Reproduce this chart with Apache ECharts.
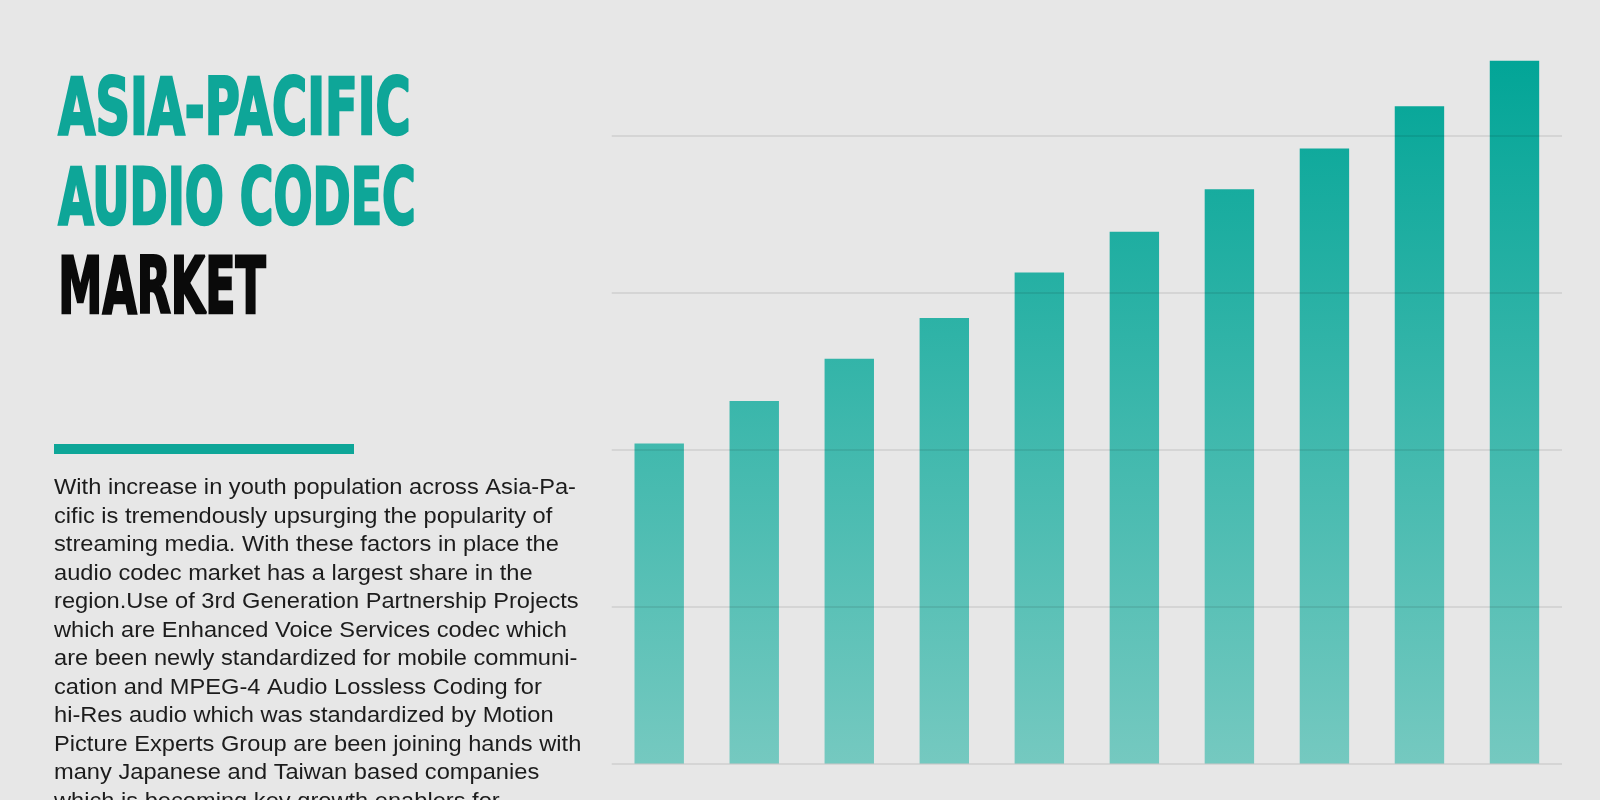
<!DOCTYPE html>
<html>
<head>
<meta charset="utf-8">
<title>Asia-Pacific Audio Codec Market</title>
<script src="https://cdn.jsdelivr.net/npm/echarts@6/dist/echarts.min.js"></script>
<style>
  html, body { margin: 0; padding: 0; background: #e7e7e7; }
  #main { width: 1600px; height: 800px; }
</style>
</head>
<body>
<div id="main"></div>
<script>
// data (in gridline steps)
var years = ['2018', '2019', '2020', '2021', '2022', '2023', '2024', '2025', '2026', '2027'];
var marketSize = [2.04, 2.31, 2.58, 2.84, 3.13, 3.39, 3.66, 3.92, 4.19, 4.48];
var gridSteps = [0, 1, 2, 3, 4];

var titleLines = ['ASIA-PACIFIC', 'AUDIO CODEC', 'MARKET'];
var bodyLines = [
  'With increase in youth population across Asia-Pa-',
  'cific is tremendously upsurging the popularity of',
  'streaming media. With these factors in place the',
  'audio codec market has a largest share in the',
  'region.Use of 3rd Generation Partnership Projects',
  'which are Enhanced Voice Services codec which',
  'are been newly standardized for mobile communi-',
  'cation and MPEG-4 Audio Lossless Coding for',
  'hi-Res audio which was standardized by Motion',
  'Picture Experts Group are been joining hands with',
  'many Japanese and Taiwan based companies',
  'which is becoming key growth enablers for'
];

var teal = '#0ea698';
var chart = echarts.init(document.getElementById('main'));

// measure text so the condensed heading fits its box
var ctx = document.createElement('canvas').getContext('2d');
ctx.textBaseline = 'middle';
var titleFont = 'bold 79px "DejaVu Sans Condensed", "DejaVu Sans", sans-serif';
var titleStroke = 2.6;
ctx.font = titleFont;
var capAsc = ctx.measureText('H').actualBoundingBoxAscent;

// [cap top, right edge]
var titleBoxes = [[75, 412], [165, 417], [254, 267]];
var graphics = [];
titleLines.forEach(function (t, i) {
  var w = ctx.measureText(t).width;
  var col = i < 2 ? teal : '#0a0a0a';
  graphics.push({
    type: 'text',
    x: 57 + titleStroke / 2,
    y: titleBoxes[i][0] + titleStroke / 2 + capAsc,
    scaleX: (titleBoxes[i][1] - 57 - titleStroke) / w,
    style: {
      text: t,
      font: titleFont,
      fill: col,
      stroke: col,
      lineWidth: titleStroke,
      lineJoin: 'miter',
      align: 'left',
      verticalAlign: 'middle'
    }
  });
});

graphics.push({
  type: 'rect',
  shape: { x: 54, y: 444, width: 300, height: 10 },
  style: { fill: teal }
});

var bodyFont = '22px "Liberation Sans", Arial, sans-serif';
ctx.font = bodyFont;
var bodyDesc = ctx.measureText('H').actualBoundingBoxDescent;
var bodyScale = 522 / ctx.measureText(bodyLines[0]).width;
var lh = 28.5;
graphics.push({
  type: 'text',
  x: 54,
  y: 494.3 - bodyDesc - lh / 2,
  scaleX: bodyScale,
  style: {
    text: bodyLines.join('\n'),
    font: bodyFont,
    lineHeight: lh,
    fill: '#1c1c1c',
    align: 'left',
    verticalAlign: 'top'
  }
});

var option = {
  backgroundColor: '#e7e7e7',
  animation: false,
  grid: { left: 611.7, right: 38, top: 41.8, bottom: 36.5 },
  xAxis: {
    type: 'category',
    data: years,
    axisLine: { show: false },
    axisTick: { show: false },
    axisLabel: { show: false }
  },
  yAxis: {
    type: 'value',
    min: 0,
    max: 4.6,
    axisLine: { show: false },
    axisTick: { show: false },
    axisLabel: { show: false },
    splitLine: { show: false }
  },
  graphic: graphics,
  series: [{
    type: 'bar',
    data: marketSize,
    barWidth: '52%',
    itemStyle: {
      color: new echarts.graphic.LinearGradient(0, 61, 0, 763.5, [
        { offset: 0, color: '#02a597' },
        { offset: 1, color: '#75c9c0' }
      ], true)
    },
    markLine: {
      silent: true,
      symbol: 'none',
      label: { show: false },
      lineStyle: { color: 'rgba(0,0,0,0.1)', width: 1.6, type: 'solid' },
      data: gridSteps.map(function (v) { return { yAxis: v }; })
    }
  }]
};

chart.setOption(option);
</script>
</body>
</html>
